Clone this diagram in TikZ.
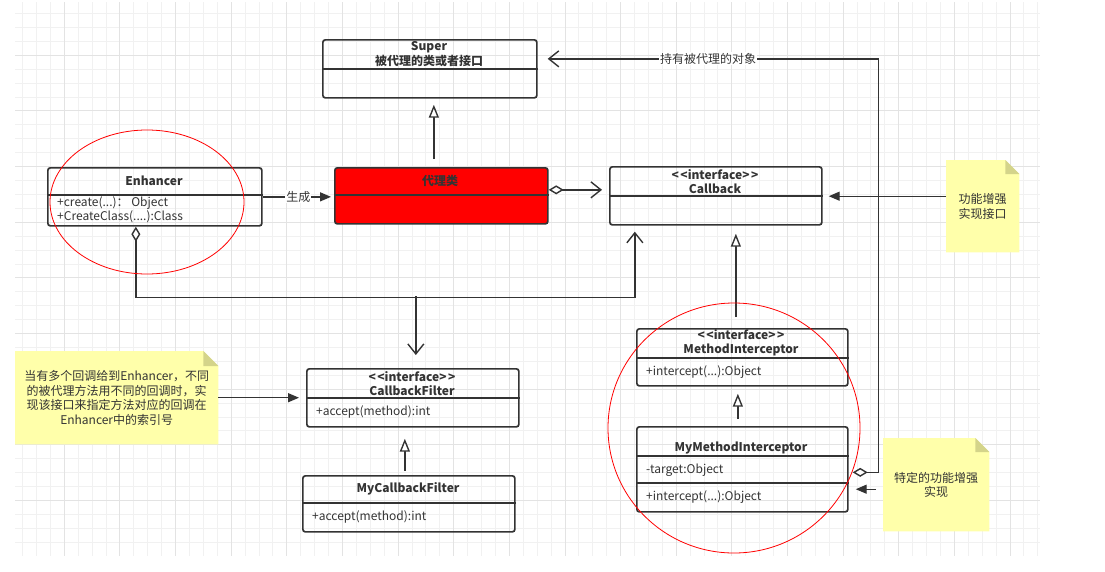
\documentclass[tikz,border=0pt]{standalone}
\usepackage{fontspec}
\setmainfont{Noto Sans CJK SC}
\usetikzlibrary{arrows.meta}
\definecolor{linec}{HTML}{333333}
\definecolor{txtc}{HTML}{333333}
\definecolor{notefill}{HTML}{FFFFAA}
\definecolor{foldc}{HTML}{D4D48A}
\definecolor{gridmin}{HTML}{F1F1F1}
\definecolor{gridmaj}{HTML}{E3E3E3}
\definecolor{proxyred}{HTML}{FF0000}
\begin{document}
\begin{tikzpicture}[x=1pt,y=-1pt,
  umlbox/.style={draw=linec, line width=1.7pt, rounded corners=2.5pt, anchor=north west, inner sep=0pt},
  divider/.style={draw=linec, line width=1.7pt},
  ttl/.style={text=txtc, font=\fontsize{12}{14.5}\selectfont\bfseries, align=center, inner sep=0pt},
  mem/.style={text=txtc, font=\fontsize{12}{14.5}\selectfont, anchor=west, inner sep=0pt},
  conn/.style={draw=linec, line width=1.4pt},
  gen/.style={conn, -{Triangle[length=13pt,width=10pt,fill=white]}},
  blk/.style={conn, -{Triangle[length=11pt,width=9pt]}},
  opn/.style={conn, -{Straight Barb[length=10pt,width=16pt]}},
  agg/.style={conn, {Diamond[length=15pt,width=9pt,fill=white]}-{Straight Barb[length=10pt,width=16pt]}},
  notebox/.style={anchor=north west, inner sep=0pt},
  notetxt/.style={text=txtc, font=\fontsize{12}{14.5}\selectfont, align=center, inner sep=0pt},
  lbl/.style={text=txtc, font=\fontsize{12}{14}\selectfont, fill=white, inner sep=1pt},
  redring/.style={draw=red, line width=0.8pt}
]
\useasboundingbox (0,0) rectangle (1105,571);
% grid
\foreach \k in {-3,...,70} \draw[gridmin, line width=0.9pt] ({64.3+13.907*\k},2) -- ({64.3+13.907*\k},556);
\foreach \k in {-3,...,35} \draw[gridmin, line width=0.9pt] (15,{55.3+13.91*\k}) -- (1040,{55.3+13.91*\k});
\foreach \k in {0,4,...,68} \draw[gridmaj, line width=0.9pt] ({64.3+13.907*\k},2) -- ({64.3+13.907*\k},556);
\foreach \k in {0,4,...,32} \draw[gridmaj, line width=0.9pt] (15,{55.3+13.91*\k}) -- (1040,{55.3+13.91*\k});

% Super
\node[umlbox, minimum width=214pt, minimum height=58pt] (super) at (322,39) {};
\draw[divider] (super.west |- 0,69) -- (super.east |- 0,69);
\node[ttl] (superT) at (429,54) {Super\\被代理的类或者接口};

% Enhancer
\node[umlbox, minimum width=214pt, minimum height=58pt] (enh) at (47,167) {};
\draw[divider] (enh.west |- 0,195) -- (enh.east |- 0,195);
\node[ttl] (enhT) at (154,181) {Enhancer};
\node[mem] (enhM1) at (57,203) {+create(...)： Object};
\node[mem] (enhM2) at (57,217) {+CreateClass(....):Class};

% proxy class
\node[umlbox, fill=proxyred, minimum width=213pt, minimum height=56pt] (dl) at (334,167) {};
\draw[divider] (dl.west |- 0,195) -- (dl.east |- 0,195);
\node[ttl] (dlT) at (440,181) {代理类};

% Callback
\node[umlbox, minimum width=212pt, minimum height=58pt] (cb) at (609,166) {};
\draw[divider] (cb.west |- 0,196) -- (cb.east |- 0,196);
\node[ttl] (cbT) at (715,181.5) {<\kern1.5pt<interface>\kern1.5pt>\\Callback};

% MethodInterceptor
\node[umlbox, minimum width=211pt, minimum height=57pt] (mi) at (636,328) {};
\draw[divider] (mi.west |- 0,358) -- (mi.east |- 0,358);
\node[ttl] (miT) at (741,342.5) {<\kern1.5pt<interface>\kern1.5pt>\\MethodInterceptor};
\node[mem] (miM) at (646,372) {+intercept(...):Object};

% MyMethodInterceptor
\node[umlbox, minimum width=211pt, minimum height=85pt] (mmi) at (636,426) {};
\draw[divider] (mmi.west |- 0,456) -- (mmi.east |- 0,456);
\draw[divider] (mmi.west |- 0,483) -- (mmi.east |- 0,483);
\node[ttl] (mmiT) at (741,448) {MyMethodInterceptor};
\node[mem] (mmiA) at (646,470) {-target:Object};
\node[mem] (mmiM) at (646,497) {+intercept(...):Object};

% CallbackFilter
\node[umlbox, minimum width=212pt, minimum height=58pt] (cf) at (306,368) {};
\draw[divider] (cf.west |- 0,398) -- (cf.east |- 0,398);
\node[ttl] (cfT) at (412,383.5) {<\kern1.5pt<interface>\kern1.5pt>\\CallbackFilter};
\node[mem] (cfM) at (316,412) {+accept(method):int};

% MyCallbackFilter
\node[umlbox, minimum width=212pt, minimum height=56pt] (mcf) at (302,475) {};
\draw[divider] (mcf.west |- 0,503) -- (mcf.east |- 0,503);
\node[ttl] (mcfT) at (408,489) {MyCallbackFilter};
\node[mem] (mcfM) at (312,517) {+accept(method):int};

% notes
\node[notebox, minimum width=73pt, minimum height=92pt] (n1) at (946,160) {};
\fill[notefill] (n1.north west) -- ([xshift=-14pt]n1.north east) -- ([yshift=-14pt]n1.north east) -- (n1.south east) -- (n1.south west) -- cycle;
\fill[foldc] ([xshift=-14pt]n1.north east) -- ([yshift=-14pt]n1.north east) -- ([xshift=-14pt,yshift=-14pt]n1.north east) -- cycle;
\node[notetxt] (n1t) at (n1.center) {功能增强\\实现接口};

\node[notebox, minimum width=106pt, minimum height=93pt] (n2) at (883,438) {};
\fill[notefill] (n2.north west) -- ([xshift=-14pt]n2.north east) -- ([yshift=-14pt]n2.north east) -- (n2.south east) -- (n2.south west) -- cycle;
\fill[foldc] ([xshift=-14pt]n2.north east) -- ([yshift=-14pt]n2.north east) -- ([xshift=-14pt,yshift=-14pt]n2.north east) -- cycle;
\node[notetxt] (n2t) at (n2.center) {特定的功能增强\\实现};

\node[notebox, minimum width=203pt, minimum height=93pt] (n3) at (15,351) {};
\fill[notefill] (n3.north west) -- ([xshift=-15pt]n3.north east) -- ([yshift=-15pt]n3.north east) -- (n3.south east) -- (n3.south west) -- cycle;
\fill[foldc] ([xshift=-15pt]n3.north east) -- ([yshift=-15pt]n3.north east) -- ([xshift=-15pt,yshift=-15pt]n3.north east) -- cycle;
\node[notetxt] (n3t) at (n3.center) {当有多个回调给到Enhancer，不同\\的被代理方法用不同的回调时，实\\现该接口来指定方法对应的回调在\\Enhancer中的索引号};

% connectors
\draw[gen, shorten <=8pt, shorten >=6pt] ([xshift=-7.5pt]dl.north) -- ([xshift=4pt]super.south);
\draw[blk, shorten >=3pt] (enh.east) -- (enh.east -| dl.west) node[lbl, pos=0.5] (genL) {生成};
\draw[agg, shorten >=7pt] ([yshift=6pt]dl.east) -- ([yshift=6pt]dl.east -| cb.west);
\draw[blk, shorten >=6pt] ([yshift=10pt]n1.west) -- ([yshift=10pt]n1.west -| cb.east);
\draw[agg, shorten <=4pt, shorten >=10pt] ([yshift=-3pt]mmi.east) -- ++(30,0) |- ([yshift=10pt]super.east) node[lbl, pos=0.75] (holdL) {持有被代理的对象};
\draw[agg, shorten >=6pt] ([xshift=-19pt]enh.south) -- ++(0,71) -| ([xshift=-81pt]cb.south);
\coordinate (br) at ([xshift=3pt]cf.north |- 0,296);
\draw[opn, shorten >=13pt] (br) -- ([xshift=3pt]cf.north);
\draw[gen, shorten <=11pt, shorten >=8pt] ([xshift=-6.5pt]mi.north) -- ([xshift=20pt]cb.south);
\draw[gen, shorten <=7pt, shorten >=7pt] ([xshift=-4.5pt]mmi.north) -- ([xshift=-4.5pt]mi.south);
\draw[blk, shorten <=7pt, shorten >=7pt] ([yshift=-4.5pt]n2.west) -- ([yshift=-4.5pt]n2.west -| mmi.east);
\draw[gen, shorten <=4pt, shorten >=11pt] ([xshift=-4pt]mcf.north) -- ([xshift=-8pt]cf.south);
\draw[blk, shorten >=7pt] (n3.east) -- (n3.east -| cf.west);

% red rings
\draw[redring] (147,202) ellipse [x radius=97, y radius=72];
\draw[redring] (734,428) ellipse [x radius=126, y radius=125];
\end{tikzpicture}
\end{document}
